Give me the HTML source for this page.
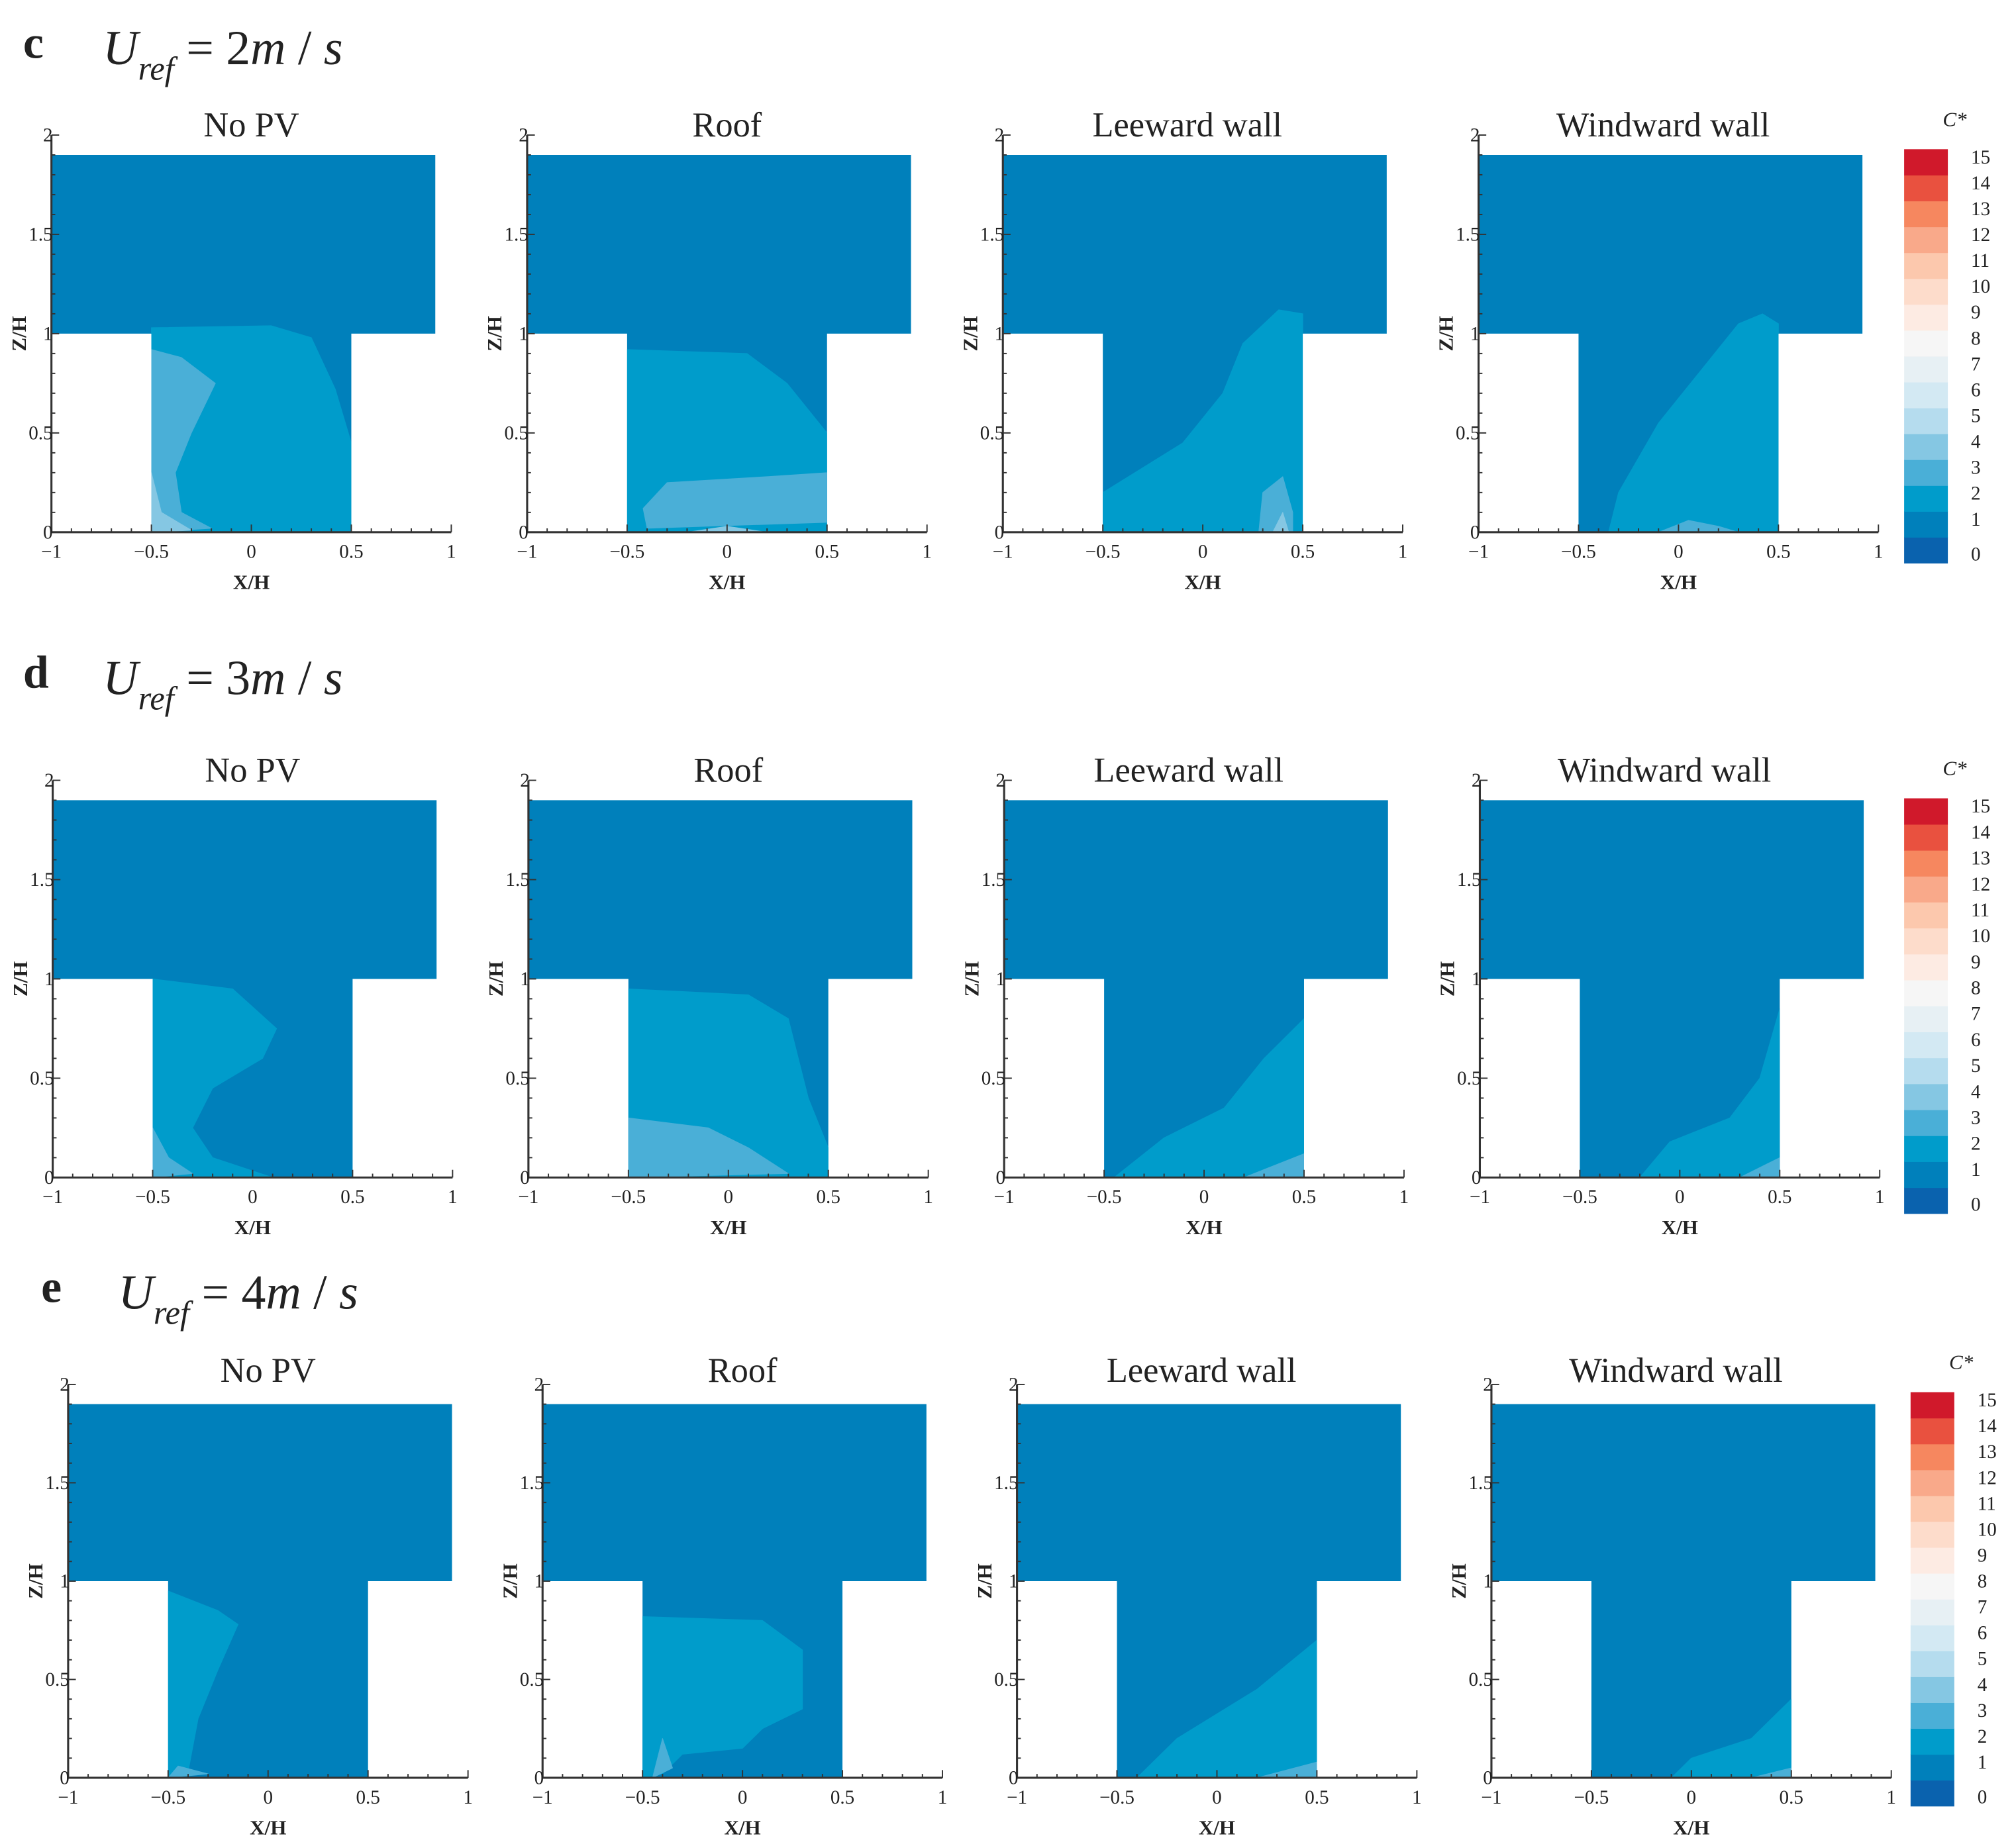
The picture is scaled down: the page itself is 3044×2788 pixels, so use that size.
<!DOCTYPE html>
<html><head><meta charset="utf-8"><style>
html,body{margin:0;padding:0;background:#fff;}
svg{display:block;}
text{font-family:"Liberation Serif",serif;fill:#222;}
</style></head><body>
<svg id="fig" xmlns="http://www.w3.org/2000/svg" width="3044" height="2788" viewBox="0 0 1568 1436">
<rect width="1568" height="1436" fill="#fff"/>
</svg>
<script>
// ---- data ----
const rowLabels = ["c","d","e"];
const rowSpeeds = ["2","3","4"];
const panelTitles = ["No PV","Roof","Leeward wall","Windward wall"];
const xTicks = [-1,-0.5,0,0.5,1];
const xTickLabels = ["\u22121","\u22120.5","0","0.5","1"];
const zTicks = [0,0.5,1,1.5,2];
const zTickLabels = ["0","0.5","1","1.5","2"];
const levelValues = [0,1,2,3,4,5,6,7,8,9,10,11,12,13,14,15];
const levelColors = ["#0a62ae","#0080bb","#009ccb","#4aafd7","#85c7e3","#b5dcee","#d3e9f3","#e7f0f4","#f6f6f6","#fdebe3","#fddccb","#fcc8ad","#f9a98a","#f6875f","#e9513f","#d0192b"];
// contour polygons [x/H, z/H] per row, per panel: level1 (1-2), level2 (2-3), level3 (3-4)
const cLevel1 = [
 [[[-0.5,0],[0.5,0],[0.5,0.45],[0.42,0.72],[0.3,0.98],[0.1,1.04],[-0.5,1.03]],
  [[-0.5,0],[0.5,0],[0.5,0.5],[0.3,0.75],[0.1,0.9],[-0.5,0.92]],
  [[-0.5,0],[0.5,0],[0.5,1.1],[0.38,1.12],[0.2,0.95],[0.1,0.7],[-0.1,0.45],[-0.5,0.2]],
  [[-0.35,0],[0.5,0],[0.5,1.05],[0.42,1.1],[0.3,1.05],[0.1,0.8],[-0.1,0.55],[-0.3,0.2]]],
 [[[-0.5,0],[0.1,0],[-0.2,0.1],[-0.3,0.25],[-0.2,0.45],[0.05,0.6],[0.12,0.75],[-0.1,0.95],[-0.5,1.0]],
  [[-0.5,0],[0.5,0],[0.5,0.15],[0.4,0.4],[0.3,0.8],[0.1,0.92],[-0.5,0.95]],
  [[-0.45,0],[0.5,0],[0.5,0.8],[0.3,0.6],[0.1,0.35],[-0.2,0.2]],
  [[-0.2,0],[0.5,0],[0.5,0.85],[0.4,0.5],[0.25,0.3],[-0.05,0.18]]],
 [[[-0.5,0],[-0.4,0.03],[-0.35,0.3],[-0.25,0.55],[-0.15,0.78],[-0.25,0.85],[-0.5,0.95]],
  [[-0.5,0],[-0.4,0.02],[-0.3,0.12],[0.0,0.15],[0.1,0.25],[0.3,0.35],[0.3,0.65],[0.1,0.8],[-0.5,0.82]],
  [[-0.4,0],[0.5,0],[0.5,0.7],[0.2,0.45],[-0.2,0.2]],
  [[-0.1,0],[0.5,0],[0.5,0.4],[0.3,0.2],[0.0,0.1]]]
];
const cLevel2 = [
 [[[-0.5,0],[-0.2,0.02],[-0.35,0.1],[-0.38,0.3],[-0.3,0.5],[-0.18,0.75],[-0.35,0.88],[-0.5,0.92]],
  [[-0.4,0.02],[0.5,0.05],[0.5,0.3],[0.2,0.28],[-0.3,0.25],[-0.42,0.12]],
  [[0.28,0],[0.3,0.2],[0.4,0.28],[0.45,0.1],[0.45,0]],
  [[-0.1,0],[0.05,0.06],[0.2,0.03],[0.3,0]]],
 [[[-0.5,0],[-0.3,0.02],[-0.42,0.1],[-0.5,0.25]],
  [[-0.5,0],[0.3,0.02],[0.1,0.15],[-0.1,0.25],[-0.5,0.3]],
  [[0.2,0],[0.5,0.12],[0.5,0]],
  [[0.3,0],[0.5,0.1],[0.5,0]]],
 [[[-0.5,0],[-0.3,0.02],[-0.45,0.06]],
  [[-0.45,0],[-0.4,0.2],[-0.35,0.05]],
  [[0.2,0],[0.5,0.08],[0.5,0]],
  [[0.3,0],[0.5,0.05],[0.5,0]]]
];
const cLevel3 = [
 [[[-0.5,0],[-0.3,0.01],[-0.45,0.1],[-0.5,0.3]],
  [[-0.2,0],[0,0.03],[0.2,0]],
  [[0.35,0],[0.4,0.1],[0.43,0]],
  []],
 [[],[],[],[]],
 [[],[],[],[]]
];
// ---- layout (display coords; viewBox scaled) ----
const rows = [
 {xs:[40,410,780,1150], y2:105, y0:414, titleY:106, labY:45, cb:{x:1481,y1:116,y2:438}},
 {xs:[41,411,781,1151], y2:607, y0:916, titleY:608, labY:535, cb:{x:1481,y1:621,y2:944}},
 {xs:[53,422,791,1160], y2:1077, y0:1383, titleY:1075, labY:1013, cb:{x:1486,y1:1083,y2:1405}}
];
const W = 311;
const svg = document.getElementById('fig');
const NS = "http://www.w3.org/2000/svg";
function mk(tag, attrs, parent){const e=document.createElementNS(NS,tag);for(const k in attrs)e.setAttribute(k,attrs[k]);(parent||svg).appendChild(e);return e;}
function txt(s, attrs, parent){const e=mk('text',attrs,parent);e.textContent=s;return e;}

rows.forEach((r,ri)=>{
  const g = mk('g',{});
  
  
  const lab = txt(rowLabels[ri],{x:ri==2?32:18,y:r.labY,'font-size':36,'font-weight':'bold'},g);
  
  
  const ux = ri==2?92:80;
  const u = mk('text',{x:ux,y:r.labY+5,'font-size':38,'font-style':'italic'},g);
  u.innerHTML = 'U<tspan font-size="26" dy="12">ref</tspan><tspan dy="-12" font-style="normal"> = '+rowSpeeds[ri]+'</tspan>m<tspan font-style="normal"> / </tspan>s';
  
  

  r.xs.forEach((x0,pi)=>{
    const H = r.y0-r.y2;
    const X = v=> x0 + (v+1)/2*W;
    const Z = v=> r.y0 - v/2*H;
    const pg = mk('g',{},g);
    
    
    const cid = 'clip'+ri+'_'+pi;
    const cp = mk('clipPath',{id:cid},pg);
    const dom = [[-1,1],[-1,1.9],[0.92,1.9],[0.92,1],[0.5,1],[0.5,0],[-0.5,0],[-0.5,1]];
    const dstr = 'M'+dom.map(p=>X(p[0])+','+Z(p[1])).join('L')+'Z';
    mk('path',{d:dstr},cp);
    const base = mk('path',{d:dstr,fill:levelColors[1]},pg);
    
    
    const cg = mk('g',{'clip-path':'url(#'+cid+')'},pg);
    [[cLevel1,2],[cLevel2,3],[cLevel3,4]].forEach(([set,lv])=>{
      const poly = set[ri][pi];
      if(!poly || !poly.length) return;
      const p = mk('path',{d:'M'+poly.map(q=>X(q[0])+','+Z(q[1])).join('L')+'Z',fill:levelColors[lv],'stroke':levelColors[lv],'stroke-width':0.5,'stroke-linejoin':'round'},cg);
      
      
    });
    const t = txt(panelTitles[pi],{x:X(0)+(pi>1?(pi==2?-12:-12):0),y:r.titleY,'font-size':27,'text-anchor':'middle'},pg);
    
    
    // axes
    const ax = mk('path',{d:`M${X(-1)},${Z(2)}L${X(-1)},${Z(0)}L${X(1)},${Z(0)}`,stroke:'#333','stroke-width':1.6,fill:'none'},pg);
    
    
    for(let i=0;i<=20;i++){const v=-1+i*0.1;const big=i%5==0;mk('line',{x1:X(v),x2:X(v),y1:Z(0),y2:Z(0)-(big?6:3),stroke:'#333','stroke-width':1},pg);}
    for(let i=0;i<=20;i++){const v=i*0.1;const big=i%5==0;mk('line',{x1:X(-1),x2:X(-1)+(big?6:3),y1:Z(v),y2:Z(v),stroke:'#333','stroke-width':1},pg);}
    xTicks.forEach((v,i)=>{const e=txt(xTickLabels[i],{x:X(v),y:Z(0)+20,'font-size':15,'text-anchor':'middle'},pg);});
    zTicks.forEach((v,i)=>{const e=txt(zTickLabels[i],{x:X(-1)+1,y:Z(v)+5,'font-size':15,'text-anchor':'end'},pg);});
    const xl = txt('X/H',{x:X(0),y:Z(0)+44,'font-size':16,'font-weight':'bold','text-anchor':'middle'},pg);
    
    
    const zl = txt('Z/H',{x:0,y:0,'font-size':16,'font-weight':'bold','text-anchor':'middle',transform:`translate(${X(-1)-20},${Z(1)}) rotate(-90)`},pg);
    
    
  });

  // colorbar
  const cb = r.cb;
  const cg = mk('g',{},g);
  
  
  const n = levelValues.length;
  const hh = (cb.y2-cb.y1)/n;
  levelValues.forEach((v,i)=>{
    const y = cb.y2 - (i+1)*hh;
    const rc = mk('rect',{x:cb.x,y:y,width:34,height:hh+0.3,fill:levelColors[i]},cg);
    
    
    const tl = txt(String(v),{x:cb.x+52,y:cb.y2-i*hh-hh*0.5+5+(i==0?3:-4),'font-size':15},cg);
    
    
  });
  const ct = txt('C*',{x:cb.x+30,y:cb.y1-18,'font-size':16,'font-style':'italic'},cg);
  
  
});
</script>
</body></html>
